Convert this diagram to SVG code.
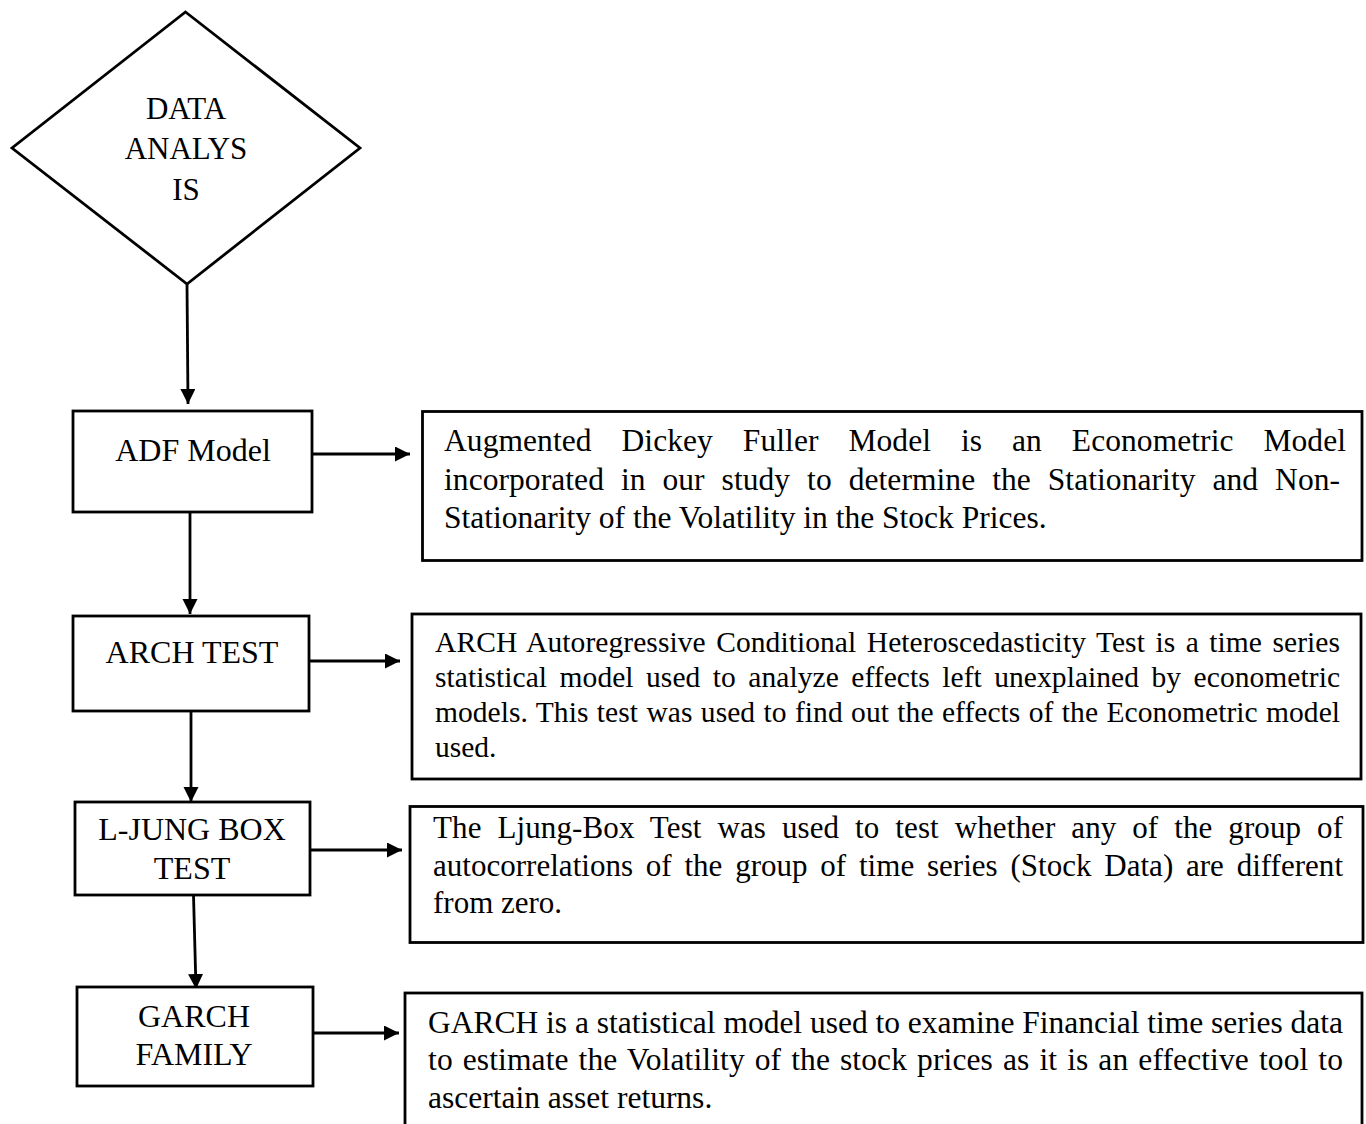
<svg xmlns="http://www.w3.org/2000/svg" width="1366" height="1124" viewBox="0 0 1366 1124">
<defs>
<marker id="arr" markerUnits="userSpaceOnUse" markerWidth="16" markerHeight="16" refX="15" refY="7.5" orient="auto">
<path d="M0,0 L15,7.5 L0,15 Z" fill="#000"/>
</marker>
<style>
.shape{fill:#fff;stroke:#000;stroke-width:2.8}
.conn{fill:none;stroke:#000;stroke-width:2.8;marker-end:url(#arr)}
.lbl{font-family:"Liberation Serif","Times New Roman",serif;font-size:32px;fill:#000;text-anchor:middle}
.dia{font-size:31px}
.desc{font-family:"Liberation Serif","Times New Roman",serif;fill:#000}
</style>
</defs>
<rect width="1366" height="1124" fill="#fff"/>
<g id="connectors">
<line class="conn" x1="187" y1="284" x2="188" y2="404"/>
<line class="conn" x1="190" y1="512" x2="190" y2="614"/>
<line class="conn" x1="191" y1="711" x2="191" y2="802"/>
<line class="conn" x1="193.5" y1="895" x2="196" y2="989"/>
<line class="conn" x1="312" y1="454" x2="410" y2="454"/>
<line class="conn" x1="309" y1="661" x2="400" y2="661"/>
<line class="conn" x1="310" y1="850" x2="402" y2="850"/>
<line class="conn" x1="312" y1="1033" x2="399" y2="1033"/>
</g>
<g id="data-analysis">
<polygon class="shape" points="185.5,12 360,148 187,284 12,148"/>
<text class="lbl dia" x="186" y="119">DATA</text>
<text class="lbl dia" x="186" y="159">ANALYS</text>
<text class="lbl dia" x="186" y="200">IS</text>
</g>
<g id="adf">
<rect class="shape" x="73" y="411" width="239" height="101"/>
<text class="lbl" x="193" y="461">ADF Model</text>
</g>
<g id="arch">
<rect class="shape" x="73" y="616" width="236" height="95"/>
<text class="lbl" x="192" y="663">ARCH TEST</text>
</g>
<g id="ljung">
<rect class="shape" x="75" y="802" width="235" height="93"/>
<text class="lbl" x="192" y="840">L-JUNG BOX</text>
<text class="lbl" x="192" y="879">TEST</text>
</g>
<g id="garch">
<rect class="shape" x="77" y="987" width="236" height="99"/>
<text class="lbl" x="194" y="1027">GARCH</text>
<text class="lbl" x="194" y="1065">FAMILY</text>
</g>
<g id="adf-desc">
<rect class="shape" x="422.5" y="411.5" width="939.5" height="149"/>
<text class="desc" font-size="31.5" x="444" y="451" word-spacing="22" textLength="902" lengthAdjust="spacing">Augmented Dickey Fuller Model is an Econometric Model</text>
<text class="desc" font-size="31.5" x="444" y="490" word-spacing="9" textLength="896" lengthAdjust="spacing">incorporated in our study to determine the Stationarity and Non-</text>
<text class="desc" font-size="31.5" x="444" y="528">Stationarity of the Volatility in the Stock Prices.</text>
</g>
<g id="arch-desc">
<rect class="shape" x="412" y="614" width="949" height="165"/>
<text class="desc" font-size="29.5" x="435" y="652" word-spacing="3" textLength="905" lengthAdjust="spacing">ARCH Autoregressive Conditional Heteroscedasticity Test is a time series</text>
<text class="desc" font-size="29.5" x="435" y="687" word-spacing="5" textLength="905" lengthAdjust="spacing">statistical model used to analyze effects left unexplained by econometric</text>
<text class="desc" font-size="29.5" x="435" y="722" word-spacing="1" textLength="905" lengthAdjust="spacing">models. This test was used to find out the effects of the Econometric model</text>
<text class="desc" font-size="29.5" x="435" y="757">used.</text>
</g>
<g id="ljung-desc">
<rect class="shape" x="410" y="806.5" width="953" height="136"/>
<text class="desc" font-size="31" x="433" y="838" word-spacing="8" textLength="910" lengthAdjust="spacing">The Ljung-Box Test was used to test whether any of the group of</text>
<text class="desc" font-size="31" x="433" y="876" word-spacing="5" textLength="910" lengthAdjust="spacing">autocorrelations of the group of time series (Stock Data) are different</text>
<text class="desc" font-size="31" x="433" y="913">from zero.</text>
</g>
<g id="garch-desc">
<rect class="shape" x="405" y="993" width="957" height="140"/>
<text class="desc" font-size="31.5" x="428" y="1033" textLength="915" lengthAdjust="spacing">GARCH is a statistical model used to examine Financial time series data</text>
<text class="desc" font-size="31.5" x="428" y="1070" word-spacing="2" textLength="915" lengthAdjust="spacing">to estimate the Volatility of the stock prices as it is an effective tool to</text>
<text class="desc" font-size="31.5" x="428" y="1108">ascertain asset returns.</text>
</g>
</svg>
